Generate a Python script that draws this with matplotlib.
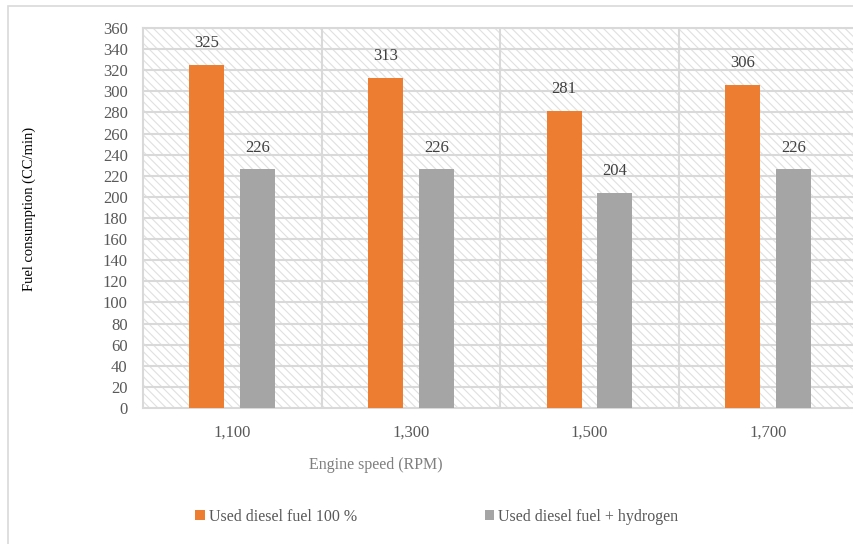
import numpy as np
import matplotlib.pyplot as plt
from matplotlib.patches import Rectangle, Patch

plt.rcParams['font.family'] = ['Liberation Serif', 'DejaVu Serif']
plt.rcParams['hatch.linewidth'] = 0.8

velocidades = ['1,100', '1,300', '1,500', '1,700']
diesel = [325, 313, 281, 306]
diesel_hidrogeno = [226, 226, 204, 226]
series = ['Used diesel fuel 100 %', 'Used diesel fuel + hydrogen']
colores = ['#ED7D31', '#A5A5A5']
gris_grid = '#D9D9D9'
gris_texto = '#595959'

fig = plt.figure(figsize=(8.54, 5.44), dpi=100)

# marco del area del grafico (se corta por derecha y abajo)
fig.patches.append(Rectangle((8 / 854, -0.2), 1.2, 1.2 - 6 / 544,
                             transform=fig.transFigure, fill=False,
                             edgecolor=gris_grid, linewidth=1.2))

ax = fig.add_axes([143 / 854, 1 - 408 / 544, 714.5 / 854, 380 / 544])

# fondo rayado
ax.add_patch(Rectangle((0, 0), 1, 1, transform=ax.transAxes, facecolor='white',
                       edgecolor='#E0E0E0', hatch='\\\\\\\\', linewidth=0, zorder=0))

x = np.arange(len(velocidades))
ancho = 0.196
desp = 0.142
for i, (vals, color) in enumerate(zip([diesel, diesel_hidrogeno], colores)):
    pos = x + (-desp if i == 0 else desp)
    ax.bar(pos, vals, width=ancho, color=color, zorder=3)
    for p, v in zip(pos, vals):
        ax.annotate(str(v), (p, v), xytext=(0, 10), textcoords='offset points',
                    ha='center', va='bottom', fontsize=12, color='#404040')

ax.set_xlim(-0.5, len(velocidades) - 0.5)
ax.set_ylim(0, 360)
ax.set_yticks(range(0, 361, 20))
ax.set_xticks(x)
ax.set_xticklabels(velocidades)
ax.tick_params(length=0, labelsize=12, labelcolor=gris_texto)
ax.tick_params(axis='x', pad=12)
ax.tick_params(axis='y', pad=11)

for y in range(20, 361, 20):
    ax.axhline(y, color=gris_grid, linewidth=1.5, zorder=1)
for xb in x[:-1] + 0.5:
    ax.axvline(xb, color=gris_grid, linewidth=1.5, zorder=1)
for lado in ['left', 'bottom', 'top', 'right']:
    ax.spines[lado].set_color(gris_grid)
    ax.spines[lado].set_linewidth(1.5)

fig.text(29 / 854, 1 - 209 / 544, 'Fuel consumption (CC/min)', rotation=90,
         ha='center', va='center', fontsize=10.5, color='black')
fig.text(376 / 854, 1 - 465 / 544, 'Engine speed (RPM)', ha='center',
         va='center', fontsize=11.5, color='#7F7F7F')

manejadores = [Patch(facecolor=c, edgecolor='none') for c in colores]
fig.legend(manejadores, series, loc='center', bbox_to_anchor=(437 / 854, 1 - 517 / 544),
           ncol=2, frameon=False, fontsize=11.5, labelcolor=gris_texto,
           handlelength=0.6, handleheight=0.6, handletextpad=0.25,
           columnspacing=8.0)

fig.savefig('out.png', dpi=100)
